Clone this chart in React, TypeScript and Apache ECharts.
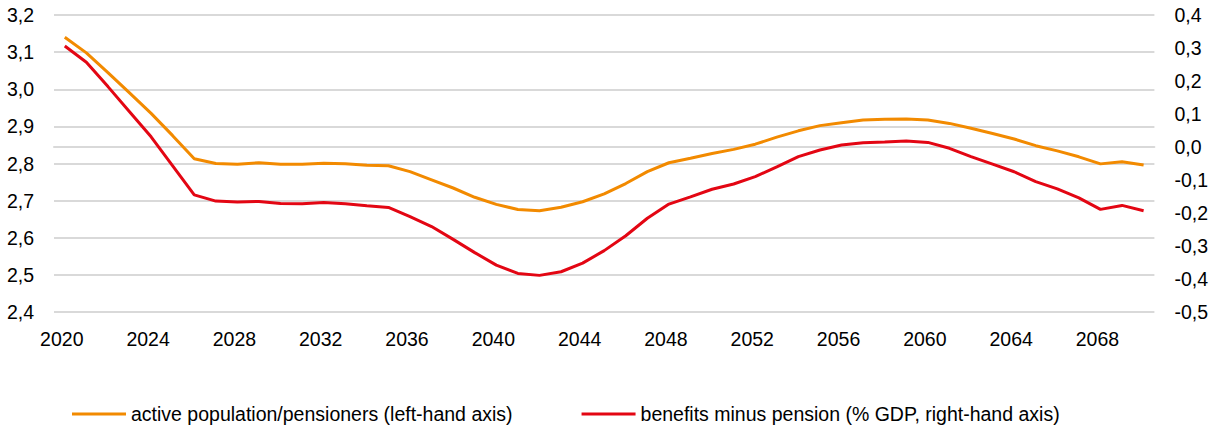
import React, { useEffect, useRef } from "react";
import * as echarts from "echarts";

const years: string[] = [];
for (let y = 2020; y <= 2070; y++) years.push(String(y));

const activePerPensioner = [
  3.140, 3.098, 3.045, 2.990, 2.935, 2.875, 2.813, 2.800, 2.798, 2.802,
  2.798, 2.798, 2.801, 2.799, 2.795, 2.794, 2.778, 2.756, 2.734, 2.709,
  2.690, 2.676, 2.673, 2.682, 2.697, 2.718, 2.746, 2.778, 2.802, 2.814,
  2.827, 2.838, 2.852, 2.871, 2.888, 2.902, 2.910, 2.917, 2.919, 2.920,
  2.917, 2.908, 2.895, 2.881, 2.866, 2.848, 2.834, 2.818, 2.799, 2.805,
  2.796,
];

const benefitsMinusPension = [
  0.306, 0.257, 0.183, 0.107, 0.031, -0.057, -0.145, -0.164, -0.167, -0.165,
  -0.171, -0.172, -0.168, -0.172, -0.178, -0.183, -0.211, -0.241, -0.280, -0.320,
  -0.358, -0.383, -0.389, -0.378, -0.352, -0.314, -0.269, -0.216, -0.173, -0.151,
  -0.128, -0.112, -0.090, -0.060, -0.029, -0.009, 0.006, 0.013, 0.015, 0.018,
  0.014, -0.004, -0.029, -0.052, -0.075, -0.105, -0.127, -0.154, -0.189, -0.177,
  -0.193,
];

const seriesNames = [
  "active population/pensioners (left-hand axis)",
  "benefits minus pension (% GDP, right-hand axis)",
];

const FONT = "'Liberation Sans', Arial, sans-serif";
const fmt = (v: number) => v.toFixed(1).replace(".", ",");

export default function App() {
  const ref = useRef<HTMLDivElement>(null);
  useEffect(() => {
    if (!ref.current) return;
    const chart = echarts.init(ref.current, null, { renderer: "svg" });
    chart.setOption({
      animation: false,
      backgroundColor: "#ffffff",
      grid: { left: 54, right: 56, top: 15, bottom: 115, containLabel: false },
      legend: {
        left: 67,
        top: 399,
        itemWidth: 54,
        itemHeight: 3,
        itemGap: 69,
        icon: "rect",
        textStyle: { fontFamily: FONT, fontSize: 19.5, color: "#000" },
        data: seriesNames,
      },
      xAxis: {
        type: "category",
        data: years,
        boundaryGap: true,
        axisLine: { lineStyle: { color: "#d9d9d9", width: 2 } },
        axisTick: { interval: 3, length: 6, lineStyle: { color: "#d9d9d9", width: 2 } },
        axisLabel: {
          interval: 3,
          margin: 17,
          fontFamily: FONT,
          fontSize: 19.5,
          color: "#000",
          padding: [0, 6, 0, 0],
        },
        splitLine: { show: false },
      },
      yAxis: [
        {
          type: "value",
          min: 2.4,
          max: 3.2,
          interval: 0.1,
          axisLine: { show: false },
          axisTick: { show: false },
          axisLabel: { margin: 20, fontFamily: FONT, fontSize: 19.5, color: "#000", formatter: fmt },
          splitLine: { lineStyle: { color: "#d9d9d9", width: 2 } },
        },
        {
          type: "value",
          min: -0.5,
          max: 0.4,
          interval: 0.1,
          position: "right",
          axisLine: { show: false },
          axisTick: { show: false },
          axisLabel: { margin: 20, fontFamily: FONT, fontSize: 19.5, color: "#000", formatter: fmt },
          splitLine: { show: false },
        },
      ],
      series: [
        {
          name: seriesNames[0],
          type: "line",
          yAxisIndex: 0,
          data: activePerPensioner,
          symbol: "none",
          color: "#f28a00",
          lineStyle: { width: 3, color: "#f28a00" },
        },
        {
          name: seriesNames[1],
          type: "line",
          yAxisIndex: 1,
          data: benefitsMinusPension,
          symbol: "none",
          color: "#e30613",
          lineStyle: { width: 3, color: "#e30613" },
        },
      ],
    });
    return () => chart.dispose();
  }, []);
  return (
    <div
      ref={ref}
      style={{ position: "fixed", left: 0, top: 0, width: 1211, height: 427, background: "#fff" }}
    />
  );
}
